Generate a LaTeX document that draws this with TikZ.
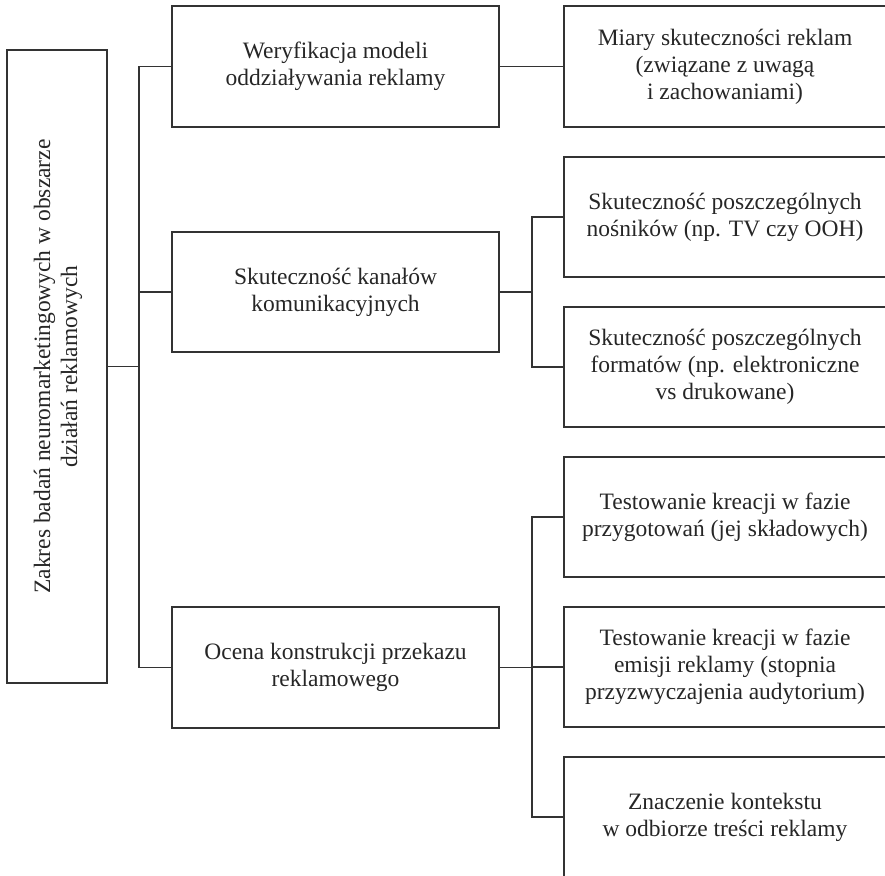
\documentclass[tikz,border=0pt]{standalone}
\usepackage{fontspec}
\setmainfont{Liberation Serif}
\begin{document}
\begin{tikzpicture}[x=1pt,y=-1pt,
  box/.style={draw=black!80, line width=1.2pt, rectangle, inner sep=0pt, align=center,
    font=\fontsize{23.5}{27}\selectfont, text=black!85},
  conn/.style={draw=black!80, line width=1.2pt}]
\useasboundingbox (0,0) rectangle (885,875);
\node[box, minimum width=100, minimum height=633] (L) at (57,366.5) {};
\node[rotate=90, align=center, font=\fontsize{23.5}{27}\selectfont, text=black!85] (Lt) at (58,366.5)
  {Zakres badań neuromarketingowych w obszarze\\działań reklamowych};
\node[box, minimum width=327, minimum height=121] (M1) at (335.5,66.5) {Weryfikacja modeli\\oddziaływania reklamy};
\node[box, minimum width=327, minimum height=120] (M2) at (335.5,292) {Skuteczność kanałów\\komunikacyjnych};
\node[box, minimum width=327, minimum height=121] (M3) at (335.5,667.5) {Ocena konstrukcji przekazu\\reklamowego};
\node[box, minimum width=322, minimum height=121] (R1) at (725,66.5) {Miary skuteczności reklam\\(związane z uwagą\\i zachowaniami)};
\node[box, minimum width=322, minimum height=120] (R2) at (725,217) {Skuteczność poszczególnych\\nośników (np. TV czy OOH)};
\node[box, minimum width=322, minimum height=120] (R3) at (725,367) {Skuteczność poszczególnych\\formatów (np. elektroniczne\\vs drukowane)};
\node[box, minimum width=322, minimum height=120] (R4) at (725,517) {Testowanie kreacji w fazie\\przygotowań (jej składowych)};
\node[box, minimum width=322, minimum height=120] (R5) at (725,667) {Testowanie kreacji w fazie\\emisji reklamy (stopnia\\przyzwyczajenia audytorium)};
\node[box, minimum width=322, minimum height=120] (R6) at (725,817) {Znaczenie kontekstu\\w odbiorze treści reklamy};
\coordinate (j1) at (139,366.5);
\coordinate (j2) at (532,292);
\coordinate (j3) at (532,667.5);
\draw[conn] (L.east) -- (j1);
\draw[conn] (M1.west) -| (j1) |- (M3.west);
\draw[conn] (M2.west) -- (M2.west -| j1);
\draw[conn] (M1.east) -- (R1.west);
\draw[conn] (M2.east) -- (j2);
\draw[conn] (R2.west) -| (j2) |- (R3.west);
\draw[conn] (M3.east) -- (j3);
\draw[conn] (R4.west) -| (j3) |- (R6.west);
\draw[conn] (R5.west) -- (R5.west -| j3);
\end{tikzpicture}
\end{document}
